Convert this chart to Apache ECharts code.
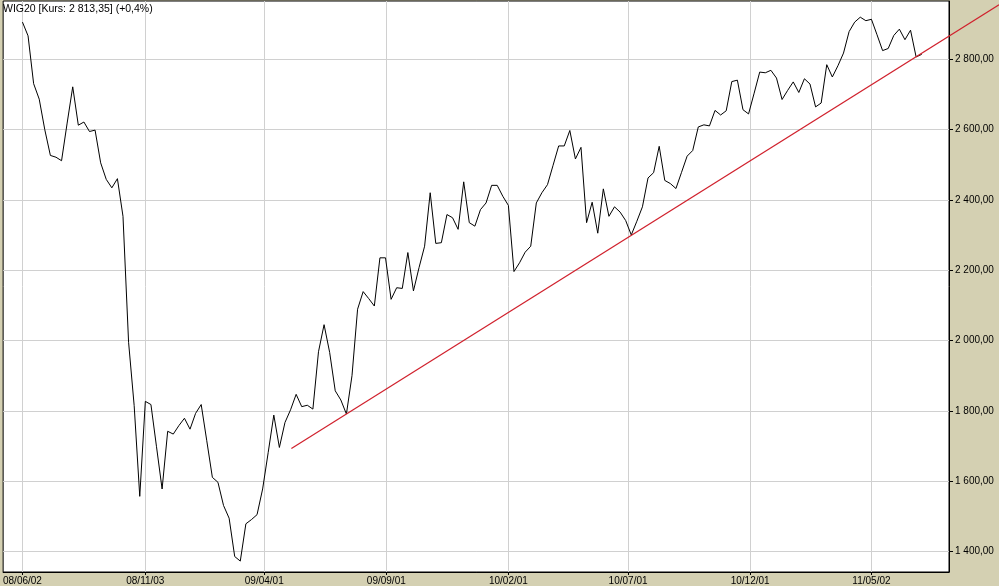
<!DOCTYPE html>
<html>
<head>
<meta charset="utf-8">
<script src="https://cdn.jsdelivr.net/npm/echarts@6/dist/echarts.min.js"></script>
<style>
html,body{margin:0;padding:0;background:#d4d0b2;}
#c{width:999px;height:586px;}
</style>
</head>
<body>
<div id="c"></div>
<script>
// Weekly WIG20 closes, first week starting 2008-06-02
const firstWeek = [2008, 5, 2];
const values = [
  2905, 2866, 2730, 2686, 2599, 2526, 2521, 2511, 2618, 2721,
  2612, 2621, 2594, 2598, 2505, 2458, 2434, 2460, 2353, 1995,
  1815, 1557, 1827, 1818, 1698, 1578, 1742, 1734, 1758, 1779,
  1748, 1793, 1818, 1715, 1611, 1597, 1531, 1495, 1386, 1373,
  1479, 1491, 1505, 1578, 1682, 1788, 1696, 1767, 1803, 1847,
  1812, 1816, 1805, 1968, 2045, 1966, 1857, 1831, 1791, 1900,
  2089, 2139, 2119, 2098, 2235, 2235, 2117, 2150, 2148, 2250,
  2141, 2207, 2268, 2420, 2276, 2278, 2358, 2349, 2316, 2451,
  2335, 2325, 2372, 2391, 2441, 2441, 2410, 2384, 2196, 2221,
  2251, 2268, 2391, 2420, 2443, 2498, 2553, 2553, 2597, 2516,
  2549, 2335, 2393, 2305, 2431, 2353, 2380, 2365, 2341, 2300,
  2339, 2380, 2462, 2477, 2552, 2455, 2446, 2432, 2478, 2524,
  2540, 2607, 2613, 2610, 2654, 2641, 2653, 2736, 2740, 2656,
  2644, 2703, 2763, 2761, 2768, 2746, 2685, 2711, 2735, 2705,
  2744, 2729, 2664, 2675, 2784, 2749, 2781, 2817, 2878, 2905,
  2919, 2909, 2913, 2869, 2824, 2830, 2867, 2885, 2855, 2882,
  2806, 2813.35
];
// trend line endpoints [y, m(0-based), d, h]
const trendDates = [[2009, 4, 6, 12], [2011, 9, 8, 19]];
const trendValues = [1695, 2954];
// tick labels [y, m(0-based), d]
const xTickDates = [[2008,5,2],[2008,10,3],[2009,3,1],[2009,8,1],[2010,1,1],[2010,6,1],[2010,11,1],[2011,4,2]];
const yTickValues = [1400, 1600, 1800, 2000, 2200, 2400, 2600, 2800];
const xRange = [[2008, 4, 8, 19], [2011, 7, 7, 5]];
const yRange = [1342, 2965];
const titleText = 'WIG20 [Kurs: 2 813,35] (+0,4%)';

function ts(a){return new Date(a[0], a[1], a[2], a[3]||0).getTime();}
function pad(n){return (n<10?'0':'')+n;}
function fmtDate(d){return pad(d.getFullYear()%100)+'/'+pad(d.getMonth()+1)+'/'+pad(d.getDate());}
function fmtNum(v){
  const s = v.toFixed(2).split('.');
  return s[0].replace(/\B(?=(\d{3})+(?!\d))/g,' ')+','+s[1];
}
const seriesData = values.map((v,i)=>[new Date(firstWeek[0], firstWeek[1], firstWeek[2] + 7*i).getTime(), v]);
const trendData = trendDates.map((d,i)=>[ts(d), trendValues[i]]);
const xTicks = xTickDates.map(ts);
const FONT = 'Liberation Sans, Arial, sans-serif';

const W = 999, GL = 1.5, GR = 50;
const xMin = ts(xRange[0]), xMax = ts(xRange[1]);
const mainW = W - GL - GR;
// overlay grid spans to the right edge of the canvas with the same scale
const xMaxWide = xMin + (xMax - xMin) * (W - GL) / mainW;

const chart = echarts.init(document.getElementById('c'), null, {renderer:'canvas'});
chart.setOption({
  animation:false,
  backgroundColor:'#d4d0b2',
  title:{text:titleText,left:3,top:4,padding:0,textStyle:{fontSize:10.5,fontWeight:'normal',color:'#000',fontFamily:FONT}},
  grid:[
    {left:GL,right:GR,top:1,bottom:13,show:true,backgroundColor:'#fff',borderColor:'#000',borderWidth:1,containLabel:false},
    {left:GL,right:0,top:1,bottom:13,show:false,containLabel:false}
  ],
  xAxis:[{
    type:'value',
    gridIndex:0,
    min:xMin,
    max:xMax,
    axisLine:{show:true,lineStyle:{color:'#000',width:1}},
    axisTick:{show:true,length:3,customValues:xTicks,lineStyle:{color:'#000'}},
    axisLabel:{customValues:xTicks,margin:4,fontSize:10,color:'#000',fontFamily:FONT,
      formatter:function(v){return fmtDate(new Date(v));}},
    splitLine:{show:true,lineStyle:{color:'#d0d0d0',width:1}}
  },{
    type:'value', gridIndex:1, min:xMin, max:xMaxWide, show:false,
    splitLine:{show:false}
  }],
  yAxis:[{
    type:'value',
    gridIndex:0,
    position:'right',
    min:yRange[0],
    max:yRange[1],
    axisLine:{show:true,lineStyle:{color:'#000',width:1}},
    axisTick:{show:true,length:4,customValues:yTickValues,lineStyle:{color:'#000'}},
    axisLabel:{customValues:yTickValues,margin:6,fontSize:10,color:'#000',fontFamily:FONT,
      formatter:function(v){return fmtNum(v);}},
    splitLine:{show:true,lineStyle:{color:'#d0d0d0',width:1}}
  },{
    type:'value', gridIndex:1, min:yRange[0], max:yRange[1], show:false,
    splitLine:{show:false}
  }],
  series:[
    {type:'line',xAxisIndex:0,yAxisIndex:0,data:seriesData,showSymbol:false,lineStyle:{color:'#000',width:1},z:3},
    {type:'line',xAxisIndex:1,yAxisIndex:1,data:trendData,showSymbol:false,clip:false,lineStyle:{color:'#d0202c',width:1.2},z:4}
  ]
});
</script>
</body>
</html>
